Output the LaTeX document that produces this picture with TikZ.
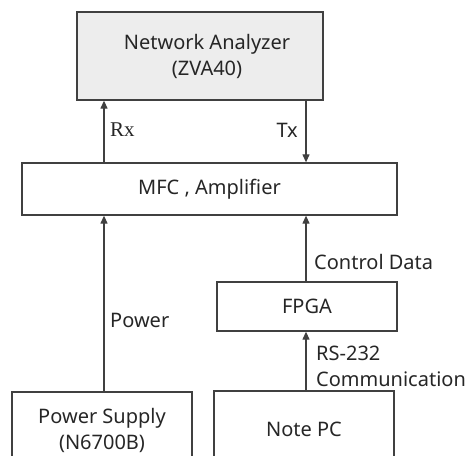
\documentclass[tikz,border=0pt]{standalone}
\usepackage{fontspec}
\setmainfont{Noto Sans}
\newfontfamily\rxfont{Liberation Serif}
\usetikzlibrary{arrows.meta,positioning}

\begin{document}
\begin{tikzpicture}[
  x=1pt, y=-1pt,
  font=\fontsize{20}{26}\selectfont,
  blk/.style={draw=black!75, line width=1.3pt, align=center, inner sep=0pt,
              text=black!85},
  lbl/.style={inner sep=0pt, text=black!85, align=left},
  arrow/.style={-{Triangle[length=8pt,width=7pt]}, line width=1.2pt, draw=black!75}
]
\useasboundingbox (0,0) rectangle (470,455);
% blocks
\node[blk, fill=black!7, minimum width=246pt, minimum height=88pt] (na) at (200,56)
  {\hspace*{14pt}Network Analyzer\\\hspace*{14pt}(ZVA40)};
\node[blk, minimum width=375pt, minimum height=52pt] (mfc) at (209.5,189)
  {MFC , Amplifier};
\node[blk, minimum width=180pt, minimum height=49pt] (fpga) at (307,306.5)
  {FPGA};
\node[blk, minimum width=180pt, minimum height=76pt] (ps) at (102,430)
  {Power Supply\\(N6700B)};
\node[blk, minimum width=180pt, minimum height=76pt] (pc) at (304,429)
  {Note PC};
% connector columns
\coordinate (left) at (104,0);
\coordinate (right) at (306,0);
\draw[arrow] (left |- mfc.north) -- (left |- na.south);
\draw[arrow] (right |- na.south) -- (right |- mfc.north);
\draw[arrow] (left |- ps.north) -- (left |- mfc.south);
\draw[arrow] (right |- fpga.north) -- (right |- mfc.south);
\draw[arrow] (right |- pc.north) -- (right |- fpga.south);
% labels
\node[lbl, anchor=west] (rx) at (110,130) {\rxfont\fontsize{21}{26}\selectfont Rx};
\node[lbl, anchor=east] (tx) at (298,130) {Tx};
\node[lbl, anchor=west] (pw) at (110,320) {Power};
\node[lbl, anchor=west] (cd) at (314,262) {Control Data};
\node[lbl, anchor=west] (rs) at (316,366) {RS-232\\Communication};
\end{tikzpicture}
\end{document}
